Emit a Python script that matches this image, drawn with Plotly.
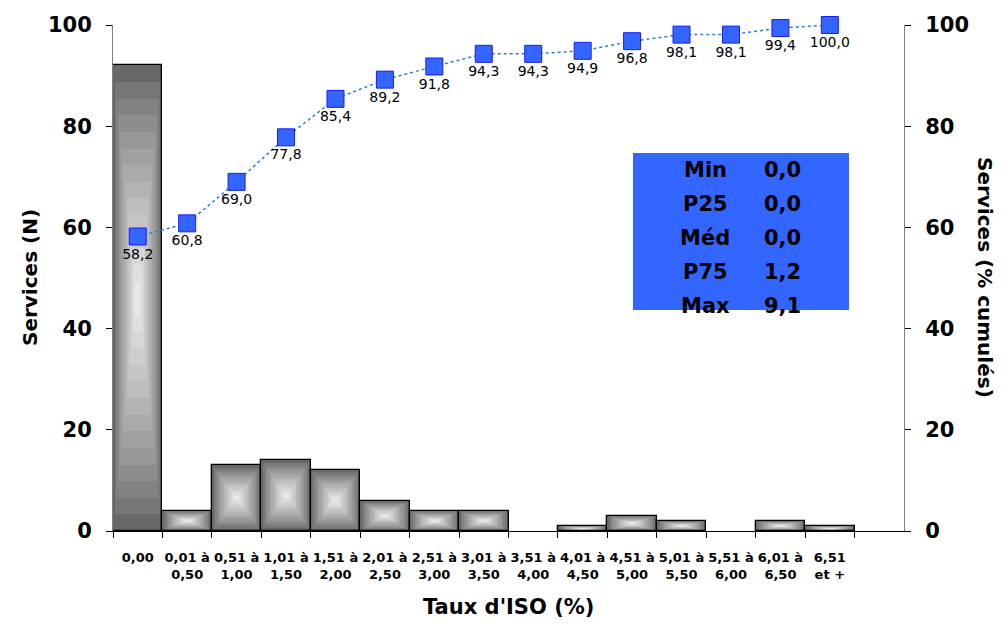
import plotly.graph_objects as go

categories = ["0,00", "0,01 à<br>0,50", "0,51 à<br>1,00", "1,01 à<br>1,50", "1,51 à<br>2,00",
              "2,01 à<br>2,50", "2,51 à<br>3,00", "3,01 à<br>3,50", "3,51 à<br>4,00",
              "4,01 à<br>4,50", "4,51 à<br>5,00", "5,01 à<br>5,50", "5,51 à<br>6,00",
              "6,01 à<br>6,50", "6,51<br>et +"]
counts = [92, 4, 13, 14, 12, 6, 4, 4, 0, 1, 3, 2, 0, 2, 1]
cum_pct = [58.2, 60.8, 69.0, 77.8, 85.4, 89.2, 91.8, 94.3, 94.3, 94.9, 96.8, 98.1, 98.1, 99.4, 100.0]
stat_names = ["Min", "P25", "Méd", "P75", "Max"]
stat_values = ["0,0", "0,0", "0,0", "1,2", "9,1"]

FONT = "DejaVu Sans, Verdana, sans-serif"
L, R, T, B = 113, 100, 25, 95
PW, PH = 1004 - L - R, 626 - T - B

fig = go.Figure()

# concentric "rectangle gradient" fill of each bar, built from counts
N = 14
c0, c1 = (104, 104, 104), (240, 240, 240)
for k in range(N):
    t = k / N
    s = t ** 0.85
    col = tuple(round(a + (b - a) * s) for a, b in zip(c0, c1))
    fig.add_trace(go.Bar(
        x=categories,
        y=[(c * (1 - t)) if c > 0 else None for c in counts],
        base=[(c * t / 2) if c > 0 else None for c in counts],
        width=1.0 - t * 0.96,
        marker=dict(color="rgb(%d,%d,%d)" % col, line=dict(width=0)),
        showlegend=False, hoverinfo="skip",
    ))
# crisp outline on top
fig.add_trace(go.Bar(
    x=categories, y=[c if c > 0 else None for c in counts], width=1.0,
    marker=dict(color="rgba(0,0,0,0)", line=dict(color="#000000", width=1.3)),
    showlegend=False, hoverinfo="skip",
))

fig.add_trace(go.Scatter(
    x=categories, y=cum_pct, yaxis="y2",
    mode="lines+markers+text",
    line=dict(color="#2a7fd4", width=1.5, dash="dot"),
    marker=dict(symbol="square", size=17, color="#3366ff", line=dict(color="#1c1cf0", width=1)),
    text=[f"{v:.1f}".replace(".", ",") for v in cum_pct],
    textposition="bottom center",
    textfont=dict(family=FONT, size=14, color="#000000"),
    cliponaxis=False,
    showlegend=False, hoverinfo="skip",
))

fig.update_layout(
    width=1004, height=626,
    margin=dict(l=L, r=R, t=T, b=B),
    paper_bgcolor="white", plot_bgcolor="white",
    barmode="overlay", bargap=0,
    font=dict(family=FONT, color="#000000"),
    xaxis=dict(
        type="category", range=[-0.5, 15.5],
        tickson="boundaries", ticks="outside", ticklen=6, tickcolor="#000000",
        showline=True, linecolor="#000000", linewidth=1,
        tickfont=dict(family=FONT, size=13, weight="bold"),
        tickangle=0,
        ticklabelstandoff=14,
        showgrid=False, zeroline=False,
    ),
    yaxis=dict(
        range=[0, 100], dtick=20, ticks="outside", ticklen=6, tickcolor="#000000",
        showline=True, linecolor="#808080", linewidth=1,
        tickfont=dict(family=FONT, size=21, weight="bold"),
        ticklabelstandoff=10,
        showgrid=False, zeroline=False,
    ),
    yaxis2=dict(
        range=[0, 100], dtick=20, overlaying="y", side="right",
        ticks="outside", ticklen=6, tickcolor="#000000",
        showline=True, linecolor="#808080", linewidth=1,
        tickfont=dict(family=FONT, size=21, weight="bold"),
        ticklabelstandoff=10,
        showgrid=False, zeroline=False,
    ),
)

def px(x):
    return (x - L) / PW

def py(y):
    return (626 - B - y) / PH

fig.add_annotation(text="Services (N)", textangle=-90, xref="paper", yref="paper",
                   x=px(30), y=0.5, xanchor="center", yanchor="middle", showarrow=False,
                   font=dict(family=FONT, size=20, weight="bold"))
fig.add_annotation(text="Services (% cumulés)", textangle=90, xref="paper", yref="paper",
                   x=px(985), y=0.5, xanchor="center", yanchor="middle", showarrow=False,
                   font=dict(family=FONT, size=20, weight="bold"))
fig.add_annotation(text="Taux d'ISO (%)", xref="paper", yref="paper",
                   x=px(508), y=py(607), xanchor="center", yanchor="middle", showarrow=False,
                   font=dict(family=FONT, size=21, weight="bold"))

fig.add_shape(type="rect", xref="paper", yref="paper",
              x0=px(633), x1=px(849), y0=py(310), y1=py(153),
              fillcolor="#3366ff", line=dict(width=0), layer="above")

for i, (n, v) in enumerate(zip(stat_names, stat_values)):
    yy = py(170 + i * 34)
    fig.add_annotation(text=n, xref="paper", yref="paper", x=px(705), y=yy,
                       xanchor="center", yanchor="middle", showarrow=False,
                       font=dict(family=FONT, size=21, weight="bold"))
    fig.add_annotation(text=v, xref="paper", yref="paper", x=px(782), y=yy,
                       xanchor="center", yanchor="middle", showarrow=False,
                       font=dict(family=FONT, size=21, weight="bold"))

fig.write_html("out.html")
